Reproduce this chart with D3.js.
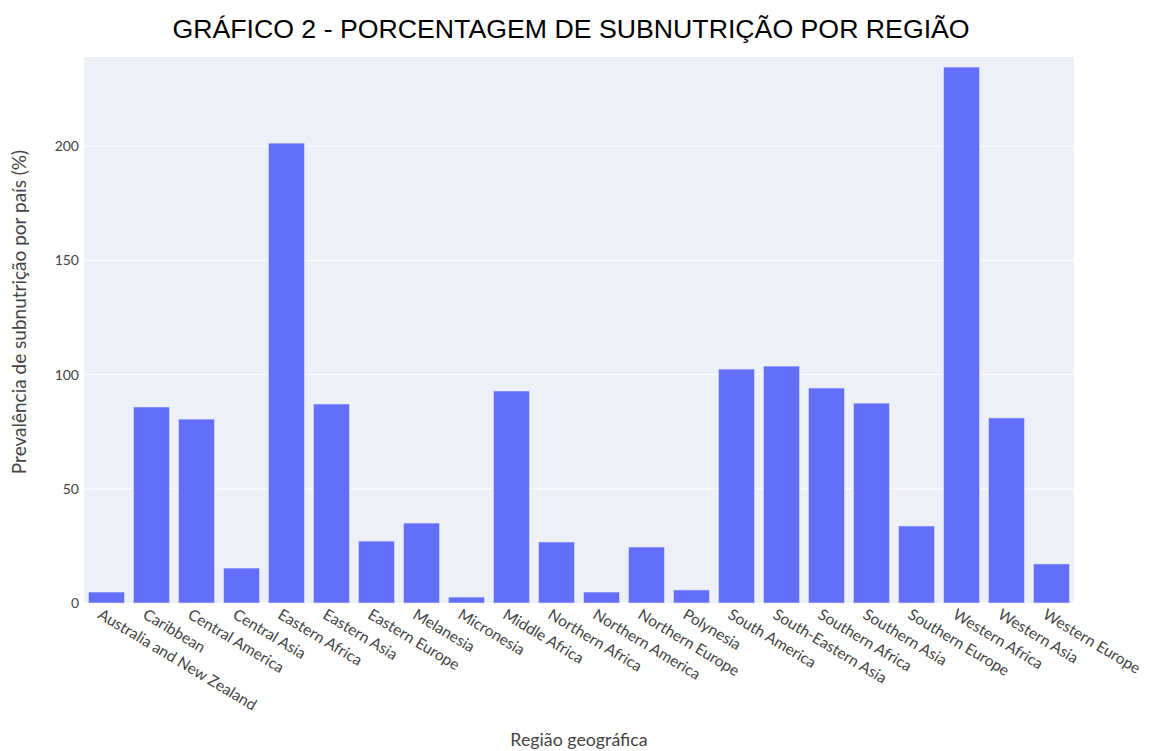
<!doctype html>
<html>
<head>
<meta charset="utf-8">
<style>
  body { margin: 0; background: #fff; }
  svg { display: block; }
  .tick text { fill: #444; }
</style>
</head>
<body>
<script src="https://d3js.org/d3.v7.min.js"></script>
<script>

  // data
  var regions = ["Australia and New Zealand","Caribbean","Central America","Central Asia","Eastern Africa",
                 "Eastern Asia","Eastern Europe","Melanesia","Micronesia","Middle Africa","Northern Africa",
                 "Northern America","Northern Europe","Polynesia","South America","South-Eastern Asia",
                 "Southern Africa","Southern Asia","Southern Europe","Western Africa","Western Asia","Western Europe"];
  var prevalence = [4.8, 85.8, 80.5, 15.3, 201.3, 87.1, 27.1, 35, 2.6, 92.8, 26.7,
                    4.8, 24.5, 5.7, 102.4, 103.7, 94.1, 87.5, 33.7, 234.6, 81, 17.1];
  var yTicks = [0, 50, 100, 150, 200];

  var width = 1150, height = 751;
  var margin = { top: 57, right: 76, bottom: 148, left: 84 };
  var innerW = width - margin.left - margin.right;
  var innerH = height - margin.top - margin.bottom;

  var svg = d3.select("body").append("svg").attr("width", width).attr("height", height);

  var xScale = d3.scaleBand().domain(regions).range([0, innerW]).paddingInner(0.2).paddingOuter(0.1);
  var yScale = d3.scaleLinear().domain([0, 239]).range([innerH, 0]);

  var g = svg.append("g").attr("transform", "translate(" + margin.left + "," + margin.top + ")");

  // plot background
  g.append("rect").attr("width", innerW).attr("height", innerH).attr("fill", "#edf0f6");

  // gridlines
  g.selectAll(".grid").data(yTicks.slice(1)).enter()
    .append("line")
    .attr("x1", 0).attr("x2", innerW)
    .attr("y1", function(d){ return yScale(d); })
    .attr("y2", function(d){ return yScale(d); })
    .attr("stroke", "#fff").attr("stroke-width", 1);

  // bars
  g.selectAll(".bar").data(regions).enter()
    .append("rect")
    .attr("x", function(d){ return xScale(d); })
    .attr("y", function(d,i){ return yScale(prevalence[i]); })
    .attr("width", xScale.bandwidth())
    .attr("height", function(d,i){ return innerH - yScale(prevalence[i]); })
    .attr("fill", "#636efa")
    .attr("stroke", "#dfe4f4").attr("stroke-width", 0.6);

  // y axis
  var yAxis = g.append("g")
    .call(d3.axisLeft(yScale).tickValues(yTicks).tickSize(0).tickPadding(5));
  yAxis.select(".domain").remove();
  yAxis.selectAll("text").attr("font-family", "Lato, sans-serif").attr("font-size", 14);

  // x axis
  var xAxis = g.append("g").attr("transform", "translate(0," + innerH + ")")
    .call(d3.axisBottom(xScale).tickSize(0).tickPadding(0));
  xAxis.select(".domain").remove();
  xAxis.selectAll("text")
    .attr("font-family", "Lato, sans-serif").attr("font-size", 15.5)
    .attr("text-anchor", "start")
    .attr("dy", "0.71em")
    .attr("transform", "translate(-4,5) rotate(31)");

  // titles
  svg.append("text")
    .attr("x", 571).attr("y", 38)
    .attr("text-anchor", "middle")
    .attr("font-family", "Liberation Sans, Arial, sans-serif")
    .attr("font-size", 26.7).attr("fill", "#000")
    .text("GRÁFICO 2 - PORCENTAGEM DE SUBNUTRIÇÃO POR REGIÃO");

  svg.append("text")
    .attr("x", margin.left + innerW / 2).attr("y", 746)
    .attr("text-anchor", "middle")
    .attr("font-family", "Lato, sans-serif")
    .attr("font-size", 17.8).attr("fill", "#444")
    .text("Região geográfica");

  svg.append("text")
    .attr("transform", "translate(26,312) rotate(-90)")
    .attr("text-anchor", "middle")
    .attr("font-family", "Lato, sans-serif")
    .attr("font-size", 19).attr("fill", "#444")
    .text("Prevalência de subnutrição por país (%)");

</script>
</body>
</html>
